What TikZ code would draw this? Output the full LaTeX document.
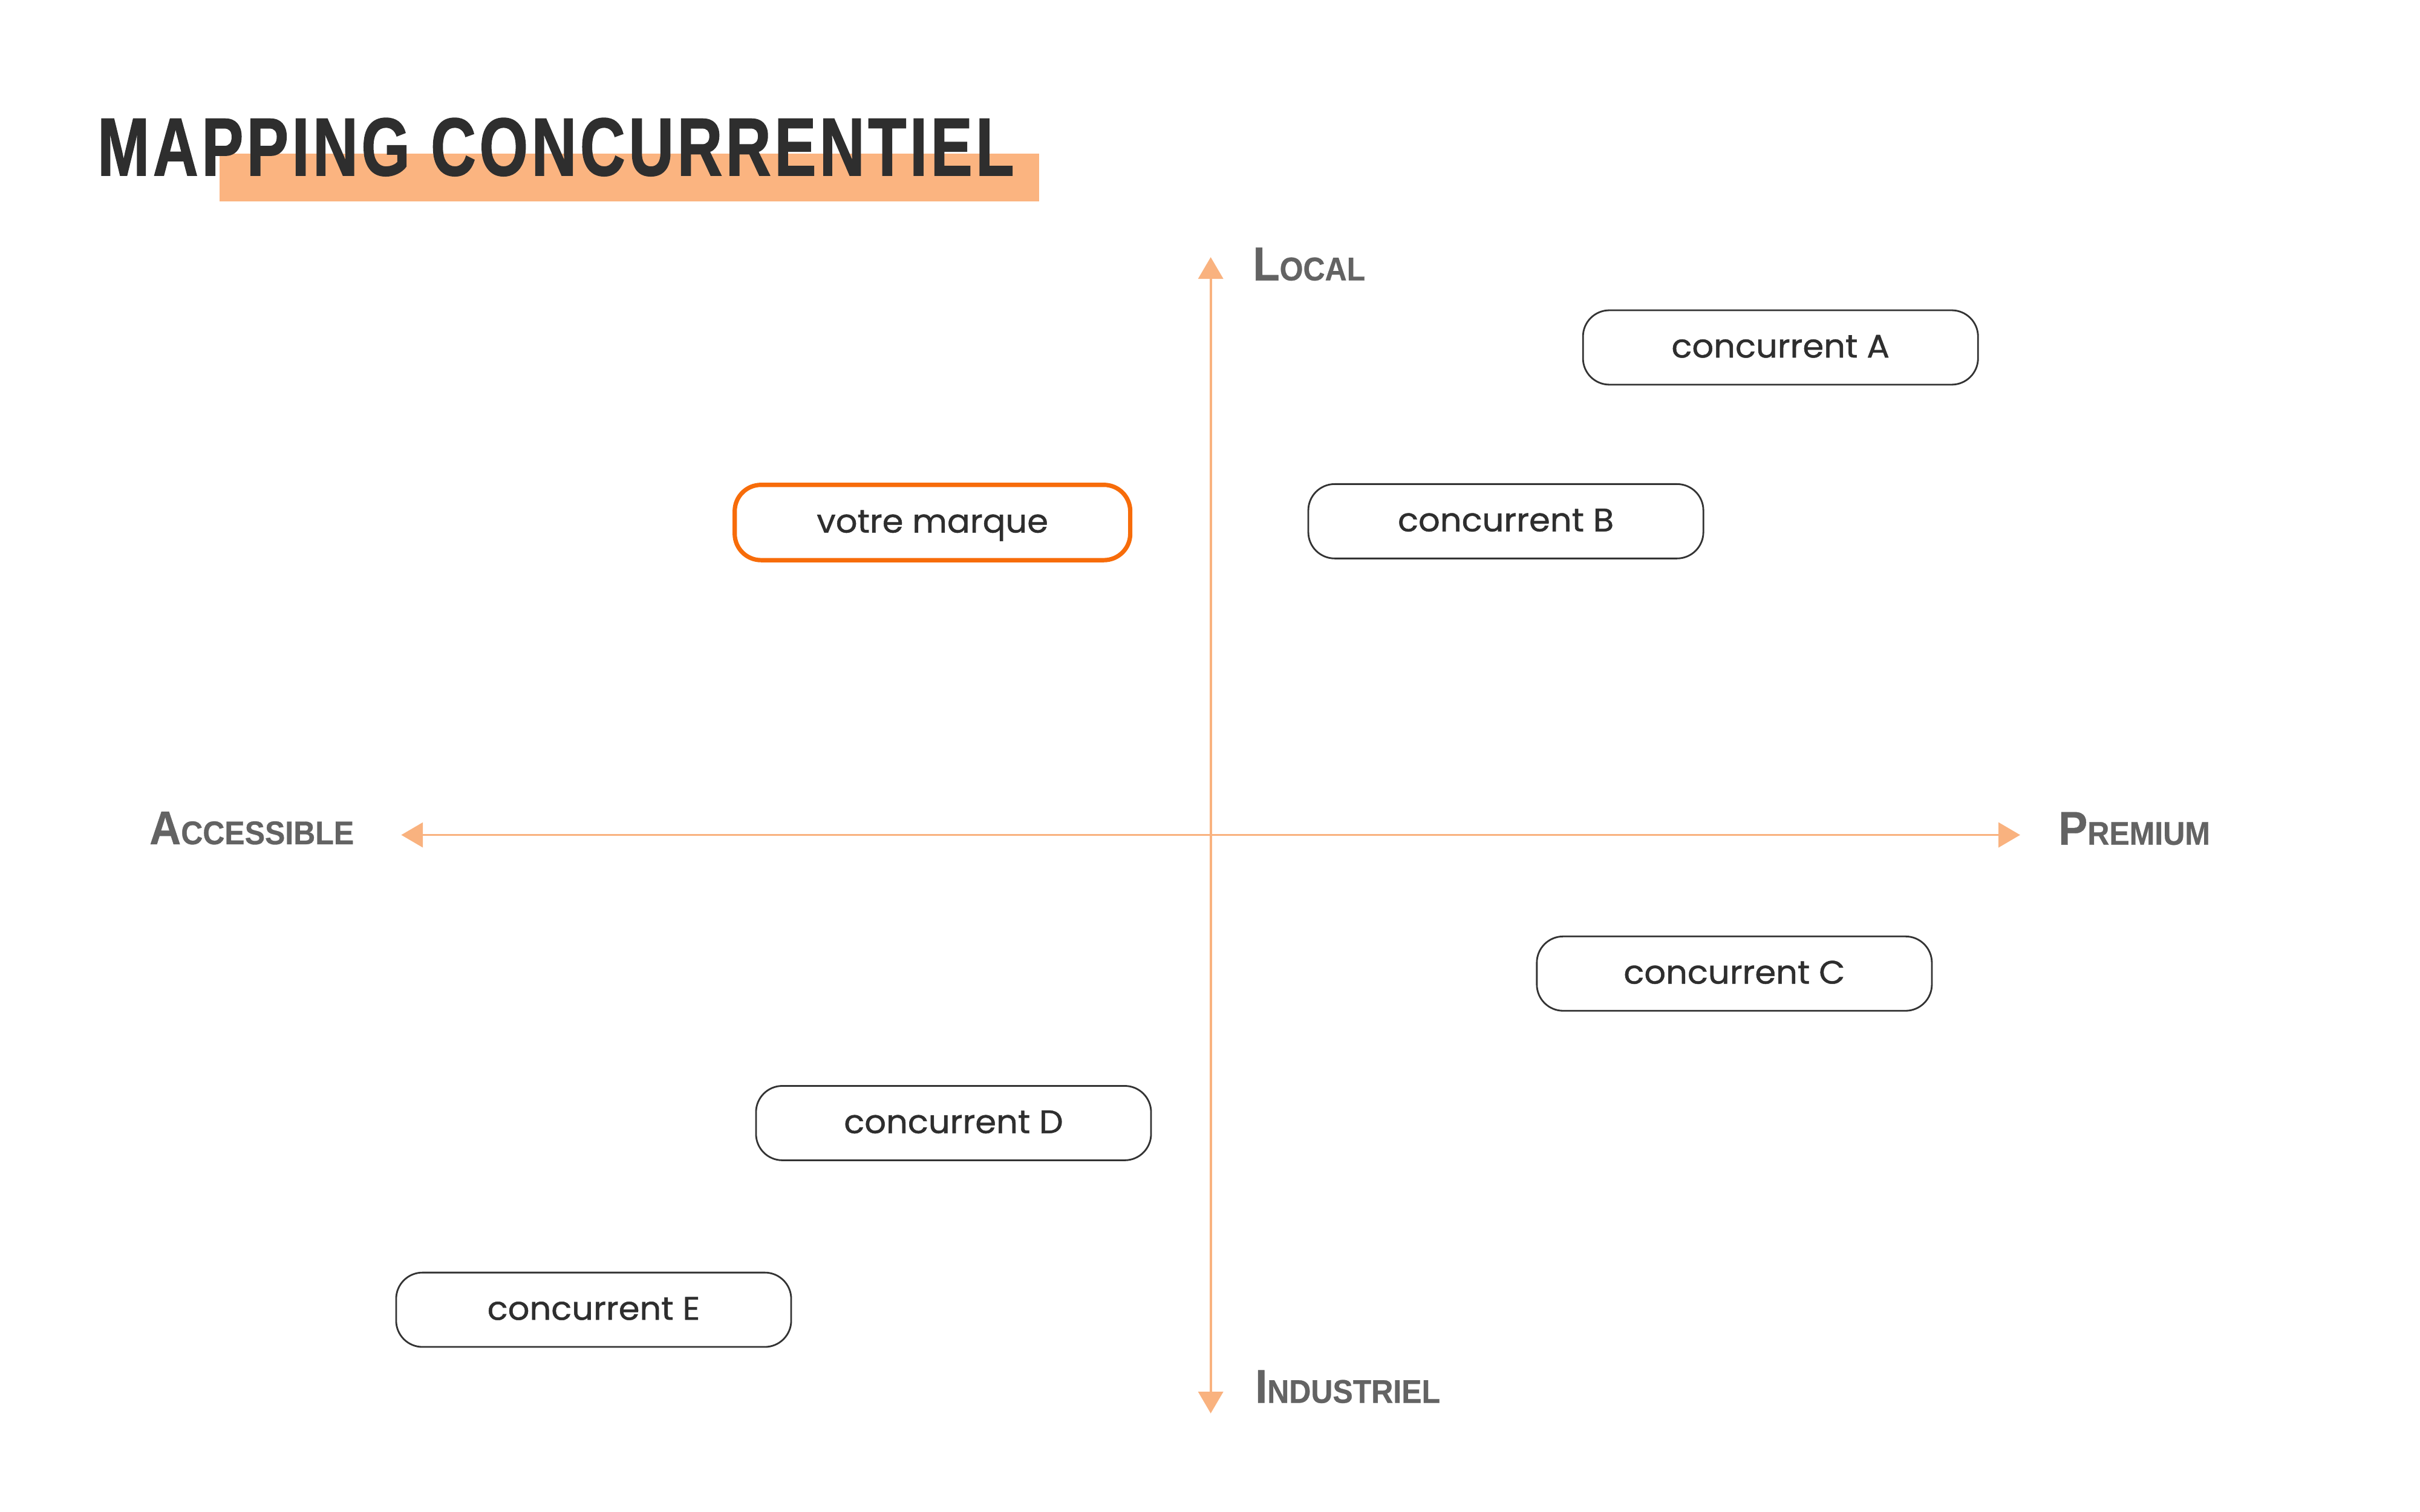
\documentclass[tikz,border=0pt]{standalone}
\usepackage{fontspec}
\setmainfont{Poppins}[FakeBold=0.9, FakeStretch=1.04]
\newfontfamily\titlefont[FakeStretch=0.76, LetterSpace=4.3, FakeBold=1.2]{Liberation Sans}
\newfontfamily\lblfont[FakeStretch=0.92, FakeBold=0.5]{Liberation Sans}
\usetikzlibrary{arrows.meta}
\definecolor{axisc}{HTML}{F9B27F}
\definecolor{hlc}{HTML}{FBB480}
\definecolor{brandc}{HTML}{F76C0A}
\definecolor{txtc}{HTML}{2E2E2E}
\definecolor{lblc}{HTML}{636363}
\definecolor{boxc}{HTML}{333333}
\newcommand{\sclabel}[2]{{\fontsize{30.6}{30.6}\selectfont #1}{\fontsize{21.2}{21.2}\selectfont #2}}
\tikzset{
  axisline/.style={draw=axisc, line width=1.5pt, {Triangle[length=14pt,width=16pt]}-{Triangle[length=14pt,width=16pt]}},
  compbox/.style={draw=boxc, line width=1.1pt, rounded corners=17pt, minimum width=255pt, minimum height=48pt, inner sep=0pt, text=txtc, text height=15pt, text depth=2pt, font=\fontsize{21}{24}\selectfont},
  brandbox/.style={compbox, draw=brandc, line width=2.8pt, minimum width=255.3pt, minimum height=48.6pt},
  axlabel/.style={inner sep=0pt, text=lblc, font=\lblfont\bfseries, anchor=base west},
}
\begin{document}
\begin{tikzpicture}[x=1pt, y=-1pt]
\useasboundingbox (0,0) rectangle (1562.1,976);
% title
\fill[hlc] (141.6,99.2) rectangle (670.6,130);
\node[inner sep=0pt, anchor=base west, text=txtc, font=\titlefont\bfseries\fontsize{53}{53}\selectfont] (title) at (62.8,113.2) {MAPPING CONCURRENTIEL};
% axes
\coordinate (top) at (781.5,166);
\coordinate (bottom) at (781.5,912.4);
\coordinate (left) at (259,539);
\coordinate (right) at (1304,539);
\draw[axisline] (bottom) -- (top);
\draw[axisline] (left) -- (right);
% axis labels
\node[axlabel] (local) at (808.6,181) {\sclabel{L}{OCAL}};
\node[axlabel] (industriel) at (810,905.6) {\sclabel{I}{NDUSTRIEL}};
\node[axlabel] (accessible) at (96.3,545) {\sclabel{A}{CCESSIBLE}};
\node[axlabel] (premium) at (1328.5,545.3) {\sclabel{P}{REMIUM}};
% boxes
\node[compbox] (a) at (1149.3,224.3) {concurrent A};
\node[compbox] (b) at (972,336.5) {concurrent B};
\node[brandbox] (votre) at (601.9,337.3) {votre marque};
\node[compbox] (c) at (1119.5,628.5) {concurrent C};
\node[compbox] (d) at (615.5,725) {concurrent D};
\node[compbox] (e) at (383.2,845.5) {concurrent E};
\end{tikzpicture}
\end{document}
